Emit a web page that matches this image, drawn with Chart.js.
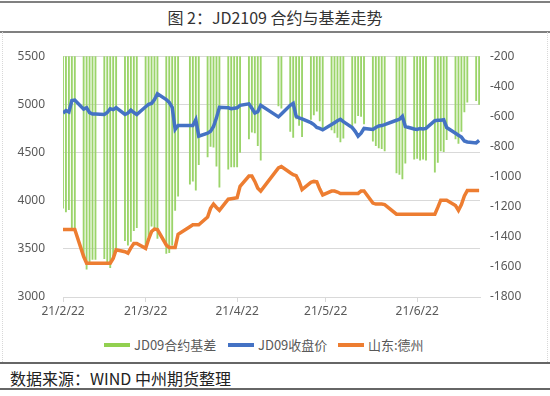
<!DOCTYPE html>
<html>
<head>
<meta charset="utf-8">
<script src="https://cdn.jsdelivr.net/npm/chart.js@4.4.1/dist/chart.umd.min.js"></script>
<style>
  body { margin: 0; width: 550px; height: 396px; background: #fff; position: relative; overflow: hidden;
         font-family: "Noto Sans CJK SC", "Noto Sans", sans-serif; }
  .title { position: absolute; left: 0; top: 1px; width: 550px; height: 28px; border-top: 2px solid #808080;
           border-bottom: 2px solid #808080; text-align: center; font-size: 16px; line-height: 28px; color: #333; }
  .frame { position: absolute; left: 2px; top: 32px; width: 544px; height: 330px;
           border-left: 1px dotted #d8d8d8; border-right: 1px dotted #d8d8d8; }
  #wrap { position: absolute; left: 0; top: 31px; width: 550px; height: 300px; }
  .legend { position: absolute; left: 0; top: 336px; width: 550px; height: 18px; font-size: 13px; color: #595959; }
  .legend span.item { position: absolute; top: 0; line-height: 18px; white-space: nowrap; }
  .legend i { display: inline-block; width: 26px; height: 4px; vertical-align: middle; margin-right: 4px; position: relative; top: -1px; }
  .source { position: absolute; left: 0; top: 362px; width: 550px; height: 28px; border-top: 2px solid #666;
            border-bottom: 2px solid #666; font-size: 16px; line-height: 28px; color: #222; padding-left: 10px; box-sizing: border-box; }
</style>
</head>
<body>
<div class="title">图 2：JD2109 合约与基差走势</div>
<div class="frame"></div>
<div id="wrap"><canvas id="chart" width="550" height="300"></canvas></div>
<div class="legend">
  <span class="item" style="left:104px"><i style="background:#92d050"></i>JD09合约基差</span>
  <span class="item" style="left:228px"><i style="background:#4472c4"></i>JD09收盘价</span>
  <span class="item" style="left:338px"><i style="background:#ed7d31"></i>山东:德州</span>
</div>
<div class="source">数据来源：WIND 中州期货整理</div>

<script>
// 交易日
const dates = [
  '2021-02-22','2021-02-23','2021-02-24','2021-02-25','2021-02-26',
  '2021-03-01','2021-03-02','2021-03-03','2021-03-04','2021-03-05',
  '2021-03-08','2021-03-09','2021-03-10','2021-03-11','2021-03-12',
  '2021-03-15','2021-03-16','2021-03-17','2021-03-18','2021-03-19',
  '2021-03-22','2021-03-23','2021-03-24','2021-03-25','2021-03-26',
  '2021-03-29','2021-03-30','2021-03-31','2021-04-01','2021-04-02',
  '2021-04-06','2021-04-07','2021-04-08','2021-04-09',
  '2021-04-12','2021-04-13','2021-04-14','2021-04-15','2021-04-16',
  '2021-04-19','2021-04-20','2021-04-21','2021-04-22','2021-04-23',
  '2021-04-26','2021-04-27','2021-04-28','2021-04-29','2021-04-30',
  '2021-05-06','2021-05-07',
  '2021-05-10','2021-05-11','2021-05-12','2021-05-13','2021-05-14',
  '2021-05-17','2021-05-18','2021-05-19','2021-05-20','2021-05-21',
  '2021-05-24','2021-05-25','2021-05-26','2021-05-27','2021-05-28',
  '2021-05-31','2021-06-01','2021-06-02','2021-06-03','2021-06-04',
  '2021-06-07','2021-06-08','2021-06-09','2021-06-10','2021-06-11',
  '2021-06-15','2021-06-16','2021-06-17','2021-06-18',
  '2021-06-21','2021-06-22','2021-06-23','2021-06-24','2021-06-25',
  '2021-06-28','2021-06-29','2021-06-30','2021-07-01','2021-07-02',
  '2021-07-05','2021-07-06','2021-07-07','2021-07-08','2021-07-09',
  '2021-07-12','2021-07-13'
];

// JD09合约基差
const basis = [
  -1210,-1235,-1220,-1340,-1345,
  -1530,-1615,-1565,-1550,-1550,
  -1545,-1565,-1605,-1545,-1475,
  -1425,-1455,-1430,-1360,-1340,
  -1470,-1400,-1330,-1345,-1410,
  -1510,-1505,-1455,-1225,-1130,
  -1050,-1030,-1090,-920,
  -870,-800,-805,-930,-1070,
  -950,-935,-935,-935,-840,
  -750,-705,-710,-795,-890,
  -530,-545,
  -700,-740,-616,-660,-735,
  -620,-590,-565,-630,-675,
  -690,-710,-740,-770,-745,
  -685,-645,-595,-600,-650,
  -765,-795,-810,-815,-830,
  -975,-985,-1015,-910,
  -885,-880,-890,-885,-890,
  -970,-905,-830,-835,-755,
  -750,-780,-700,-570,-505,
  -495,-520
];

// JD09收盘价
const closePrice = [
  4910,4935,4920,5040,5045,
  4950,4965,4915,4900,4900,
  4895,4915,4955,4945,4965,
  4895,4910,4940,4915,4895,
  4975,5000,5010,5050,5110,
  5050,5020,4970,4740,4780,
  4780,4780,4840,4670,
  4700,4720,4770,4860,4970,
  4965,4955,4960,4965,4990,
  5005,4960,4910,4925,4990,
  4870,4900,
  4990,5010,4876,4860,4850,
  4810,4790,4760,4750,4735,
  4790,4810,4830,4845,4820,
  4760,4720,4670,4700,4750,
  4740,4760,4775,4780,4790,
  4835,4845,4875,4770,
  4745,4740,4750,4745,4750,
  4830,4835,4835,4840,4760,
  4700,4680,4660,4620,4610,
  4600,4625
];

// 山东:德州
const spotPrice = [
  3700,3700,3700,3700,3700,
  3420,3350,3350,3350,3350,
  3350,3350,3350,3400,3490,
  3470,3455,3510,3555,3555,
  3505,3600,3680,3705,3700,
  3540,3515,3515,3515,3650,
  3730,3750,3750,3750,
  3830,3920,3965,3930,3900,
  4015,4020,4025,4030,4150,
  4255,4255,4200,4130,4100,
  4340,4355,
  4290,4270,4260,4200,4115,
  4190,4200,4195,4120,4060,
  4100,4100,4090,4075,4075,
  4075,4075,4075,4100,4100,
  3975,3965,3965,3965,3960,
  3860,3860,3860,3860,
  3860,3860,3860,3860,3860,
  3860,3930,4005,4005,4005,
  3950,3900,3960,4050,4105,
  4105,4105
];

const xTickDates = ['2021-02-22','2021-03-22','2021-04-22','2021-05-22','2021-06-22'];
const xTickLabels = ['21/2/22','21/3/22','21/4/22','21/5/22','21/6/22'];

// 日期 -> 距起始日的天数
const startMs = Date.parse('2021-02-22T00:00:00Z');
function dayOf(d) {
  return Math.round((Date.parse(d + 'T00:00:00Z') - startMs) / 86400000);
}
const xs = dates.map(dayOf);
const xTicks = xTickDates.map(dayOf);

function pts(values) {
  return values.map((v, i) => ({ x: xs[i], y: v }));
}

const tickFont = { family: '"Noto Sans", "DejaVu Sans", sans-serif', size: 12 };
const plain = v => String(v);

new Chart(document.getElementById('chart'), {
  data: {
    datasets: [
      {
        type: 'line',
        label: 'JD09收盘价',
        data: pts(closePrice),
        yAxisID: 'y',
        borderColor: '#4472c4',
        borderWidth: 3.5,
        pointRadius: 0,
        tension: 0,
        order: 1
      },
      {
        type: 'line',
        label: '山东:德州',
        data: pts(spotPrice),
        yAxisID: 'y',
        borderColor: '#ed7d31',
        borderWidth: 3.5,
        pointRadius: 0,
        tension: 0,
        order: 2
      },
      {
        type: 'bar',
        label: 'JD09合约基差',
        data: pts(basis),
        yAxisID: 'y1',
        backgroundColor: '#9bd46a',
        barThickness: 1.2,
        order: 3
      }
    ]
  },
  options: {
    responsive: false,
    animation: false,
    layout: { padding: { top: 19, left: 0, right: 0, bottom: 0 } },
    plugins: {
      legend: { display: false },
      tooltip: { enabled: false }
    },
    scales: {
      x: {
        type: 'linear',
        offset: false,
        min: 0,
        max: 141.3,
        afterBuildTicks: axis => {
          axis.ticks = xTicks.map(v => ({ value: v }));
        },
        afterFit: s => { s.height = 34; },
        ticks: {
          autoSkip: false,
          maxRotation: 0,
          padding: 2,
          color: '#595959',
          font: tickFont,
          callback: (v, i) => xTickLabels[i]
        },
        grid: { offset: false, drawOnChartArea: false, drawTicks: true, tickLength: 5, color: '#d9d9d9' },
        border: { display: true, color: '#d9d9d9' }
      },
      y: {
        position: 'left',
        min: 3000,
        max: 5500,
        afterFit: s => { s.width = 63; },
        ticks: { stepSize: 500, padding: 18, color: '#595959', font: tickFont, callback: plain },
        grid: { color: '#d9d9d9', drawTicks: false },
        border: { display: false }
      },
      y1: {
        position: 'right',
        min: -1800,
        max: -200,
        afterFit: s => { s.width = 70; },
        ticks: { stepSize: 200, padding: 10, color: '#595959', font: tickFont, callback: plain },
        grid: { drawOnChartArea: false, drawTicks: false },
        border: { display: false }
      }
    }
  }
});
</script>
</body>
</html>
